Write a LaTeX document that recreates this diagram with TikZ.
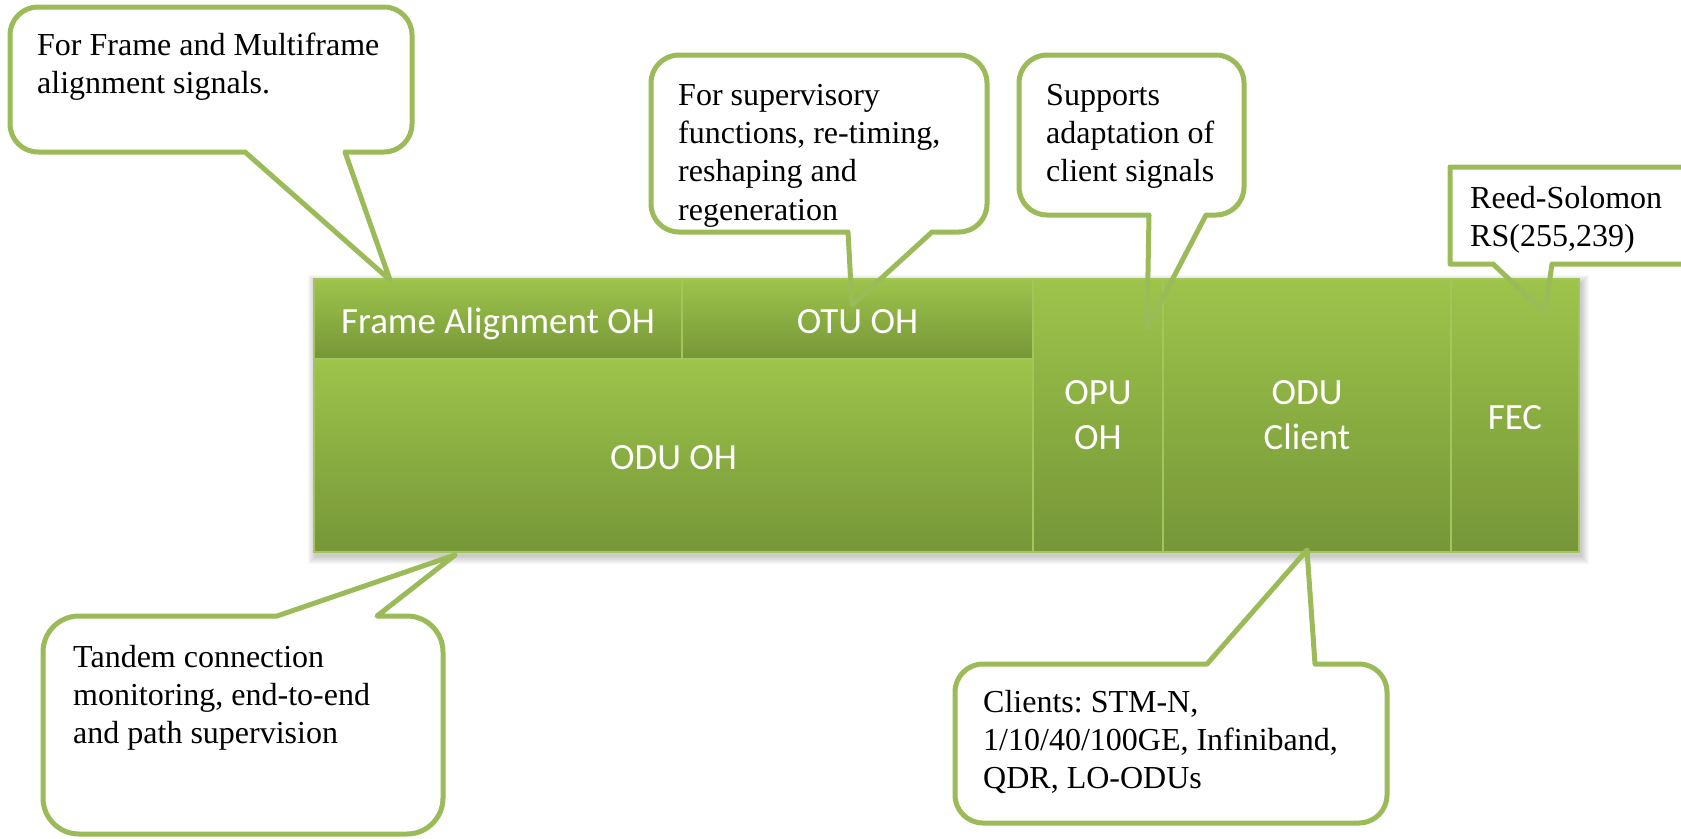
\documentclass[tikz,border=0pt]{standalone}
\usepackage{fontspec}
\setmainfont{Liberation Serif}
\newfontfamily\cellfont{Carlito}
\frenchspacing
\definecolor{olive}{RGB}{155,187,89}
\definecolor{celltop}{RGB}{158,196,75}
\definecolor{cellbot}{RGB}{118,150,56}
\definecolor{celledge}{RGB}{162,197,92}
\newcommand\textlines[1]{\begin{tabular}[t]{@{}l@{}}#1\end{tabular}}
\begin{document}
\begin{tikzpicture}[x=1pt,y=-1pt,
  cell/.style={draw=celledge, line width=2pt, top color=celltop, bottom color=cellbot,
    inner sep=0pt, text=white, font=\cellfont\fontsize{37}{45}\selectfont, align=center},
  oneline/.style={text height=30pt, text depth=2pt},
  callout/.style={draw=olive, line width=5pt, line join=round},
  note/.style={anchor=base west, inner sep=0pt, font=\fontsize{32}{38.4}\selectfont}]
\useasboundingbox (0,0) rectangle (1681,838);
\clip (0,0) rectangle (1681,838);

% soft shadow under the frame structure
\foreach \i in {1,...,8}
  \fill[black, opacity=0.028] ({316-\i},{283-\i}) rectangle ({1581+\i},{556+\i});

% frame structure cells
\node[cell, oneline, minimum width=368pt, minimum height=80pt] (fa)  at (498,319)    {Frame Alignment OH};
\node[cell, oneline, minimum width=351pt, minimum height=80pt] (otu) at (857.5,319)  {OTU OH};
\node[cell, oneline, minimum width=719pt, minimum height=193pt] (odu) at (673.5,455.5) {ODU OH};
\node[cell, minimum width=130pt, minimum height=273pt] (opu) at (1098,415.5) {OPU\\OH};
\node[cell, minimum width=288pt, minimum height=273pt] (cli) at (1307,415.5) {ODU\\Client};
\node[cell, oneline, minimum width=128pt, minimum height=273pt] (fec) at (1515,415.5) {FEC};

% callout balloons
\draw[callout] (345,152) -- (384,152) .. controls (399.46,152) and (412,139.46) .. (412,124)
  -- (412,35) .. controls (412,19.54) and (399.46,7) .. (384,7)
  -- (38,7) .. controls (22.54,7) and (10,19.54) .. (10,35)
  -- (10,124) .. controls (10,139.46) and (22.54,152) .. (38,152)
  -- (245,152) -- (390,280) -- cycle;

\draw[callout] (932,232) -- (959,232) .. controls (974.46,232) and (987,219.46) .. (987,204)
  -- (987,83) .. controls (987,67.54) and (974.46,55) .. (959,55)
  -- (679,55) .. controls (663.54,55) and (651,67.54) .. (651,83)
  -- (651,204) .. controls (651,219.46) and (663.54,232) .. (679,232)
  -- (848,232) -- (852,305) -- cycle;

\draw[callout] (1206,215) -- (1216,215) .. controls (1231.46,215) and (1244,202.46) .. (1244,187)
  -- (1244,83) .. controls (1244,67.54) and (1231.46,55) .. (1216,55)
  -- (1047,55) .. controls (1031.54,55) and (1019,67.54) .. (1019,83)
  -- (1019,187) .. controls (1019,202.46) and (1031.54,215) .. (1047,215)
  -- (1149,215) -- (1147,328) -- cycle;

\draw[callout] (1552,264) -- (1700,264) -- (1700,167) -- (1450,167) -- (1450,264)
  -- (1493,264) -- (1545,313) -- cycle;

\draw[callout] (277,616) -- (79,616) .. controls (59.12,616) and (43,632.12) .. (43,652)
  -- (43,798) .. controls (43,817.88) and (59.12,834) .. (79,834)
  -- (407,834) .. controls (426.88,834) and (443,817.88) .. (443,798)
  -- (443,652) .. controls (443,632.12) and (426.88,616) .. (407,616)
  -- (377,616) -- (455,555) -- cycle;

\draw[callout] (1207,664) -- (983,664) .. controls (967.54,664) and (955,676.54) .. (955,692)
  -- (955,795) .. controls (955,810.46) and (967.54,823) .. (983,823)
  -- (1359,823) .. controls (1374.46,823) and (1387,810.46) .. (1387,795)
  -- (1387,692) .. controls (1387,676.54) and (1374.46,664) .. (1359,664)
  -- (1315,664) -- (1307,550) -- cycle;

% balloon texts
\node[note] (nfa)  at (37,55)   {\textlines{For Frame and Multiframe\\alignment signals.}};
\node[note] (notu) at (678,105) {\textlines{For supervisory\\functions, re-timing,\\reshaping and\\regeneration}};
\node[note] (nopu) at (1046,105) {\textlines{Supports\\adaptation of\\client signals}};
\node[note] (nfec) at (1470,208) {\textlines{Reed-Solomon\\RS(255,239)}};
\node[note] (nodu) at (73,667)  {\textlines{Tandem connection\\monitoring, end-to-end\\and path supervision}};
\node[note] (ncli) at (983,712) {\textlines{Clients: STM-N,\\1/10/40/100GE, Infiniband,\\QDR, LO-ODUs}};
\end{tikzpicture}
\end{document}
